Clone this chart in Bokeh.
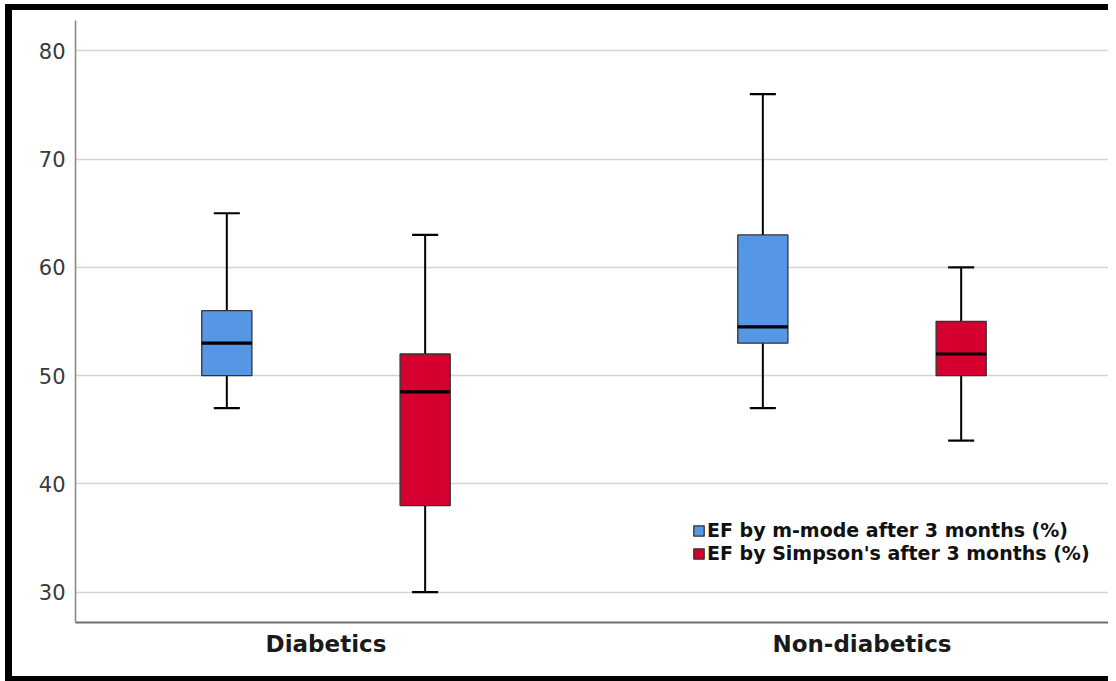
from bokeh.plotting import figure
from bokeh.models import Range1d, FixedTicker, Legend, LegendItem
from bokeh.embed import file_html
from bokeh.resources import INLINE

# ---- data ----
groups = ["Diabetics", "Non-diabetics"]
series = ["EF by m-mode after 3 months (%)", "EF by Simpson's after 3 months (%)"]
colors = ["#5596e5", "#d5002f"]

# per series: [Diabetics, Non-diabetics]
whisk_low = [[47, 47], [30, 44]]
q1 = [[50, 53], [38, 50]]
median = [[53, 54.5], [48.5, 52]]
q3 = [[56, 63], [52, 55]]
whisk_high = [[65, 76], [63, 60]]

y_ticks = [30, 40, 50, 60, 70, 80]

# ---- layout helpers ----
group_pos = [1, 2]
offsets = [-0.185, 0.185]
box_w = 0.0935
cap_w = 0.0486

p = figure(width=1103, height=677, output_backend="svg", toolbar_location=None,
           x_range=Range1d(0.5327, 2.4636), y_range=Range1d(27.2, 82.8),
           min_border_left=63, min_border_right=5, min_border_top=10, min_border_bottom=65)
p.styles = {"margin-left": "5px", "margin-top": "4px",
            "border-left": "7px solid black", "border-top": "6px solid black",
            "border-bottom": "5px solid black"}
p.outline_line_color = None
p.background_fill_color = "white"
p.border_fill_color = "white"

# grid
p.xgrid.grid_line_color = None
p.ygrid.grid_line_color = "#d4d4d4"
p.ygrid.grid_line_width = 1.6
p.ygrid.ticker = FixedTicker(ticks=y_ticks)

# axes
p.yaxis.ticker = FixedTicker(ticks=y_ticks)
p.yaxis.major_tick_line_color = None
p.yaxis.minor_tick_line_color = None
p.yaxis.axis_line_color = "#8a8a8a"
p.yaxis.axis_line_width = 1.6
p.yaxis.major_label_text_font = "DejaVu Sans"
p.yaxis.major_label_text_font_size = "21px"
p.yaxis.major_label_text_color = "#3a3a3a"
p.yaxis.major_label_standoff = 4

p.xaxis.ticker = FixedTicker(ticks=group_pos)
p.xaxis.major_label_overrides = {gp: g for gp, g in zip(group_pos, groups)}
p.xaxis.major_tick_line_color = None
p.xaxis.minor_tick_line_color = None
p.xaxis.axis_line_color = "#6e6e6e"
p.xaxis.axis_line_width = 1.8
p.xaxis.major_label_text_font = "DejaVu Sans"
p.xaxis.major_label_text_font_style = "bold"
p.xaxis.major_label_text_font_size = "23px"
p.xaxis.major_label_text_color = "#1a1a1a"
p.xaxis.major_label_standoff = 2

items = []
for s in range(len(series)):
    xs = [gp + offsets[s] for gp in group_pos]
    # whiskers
    p.segment(x0=xs, x1=xs, y0=q3[s], y1=whisk_high[s], line_color="black", line_width=2)
    p.segment(x0=xs, x1=xs, y0=whisk_low[s], y1=q1[s], line_color="black", line_width=2)
    # caps
    p.segment(x0=[x - cap_w / 2 for x in xs], x1=[x + cap_w / 2 for x in xs],
              y0=whisk_high[s], y1=whisk_high[s], line_color="black", line_width=2.2)
    p.segment(x0=[x - cap_w / 2 for x in xs], x1=[x + cap_w / 2 for x in xs],
              y0=whisk_low[s], y1=whisk_low[s], line_color="black", line_width=2.2)
    # boxes
    r = p.vbar(x=xs, width=box_w, bottom=q1[s], top=q3[s], fill_color=colors[s],
               line_color="#333333", line_width=1.3)
    # medians
    p.segment(x0=[x - box_w / 2 for x in xs], x1=[x + box_w / 2 for x in xs],
              y0=median[s], y1=median[s], line_color="black", line_width=3.2)
    items.append(LegendItem(label=series[s], renderers=[r]))

legend = Legend(items=items, location=(617, 58), orientation="vertical",
                glyph_width=13, glyph_height=13, label_height=13, spacing=1,
                label_standoff=2, padding=0, margin=0,
                border_line_color=None, background_fill_alpha=0,
                label_text_font="DejaVu Sans", label_text_font_style="bold",
                label_text_font_size="19px", label_text_color="#111111")
p.add_layout(legend, "center")

open("out.html", "w").write(file_html(p, INLINE))
